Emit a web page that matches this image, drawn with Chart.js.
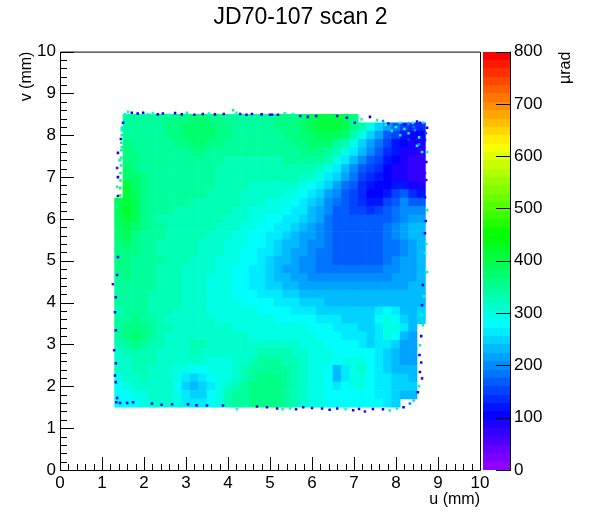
<!DOCTYPE html>
<html>
<head>
<meta charset="utf-8">
<style>
  html, body { margin: 0; padding: 0; background: #fff; }
  canvas { display: block; }
</style>
<script src="https://cdn.jsdelivr.net/npm/chart.js@4/dist/chart.umd.min.js"></script>
</head>
<body>
<canvas id="chart" width="601" height="522"></canvas>
<script>
const chartTitle = "JD70-107 scan 2";
const zTitle = "\u00b5rad";
const axisTicks = [0, 1, 2, 3, 4, 5, 6, 7, 8, 9, 10];
const zTicks = [0, 100, 200, 300, 400, 500, 600, 700, 800];

// cell centres, mm
const uCells = [1.4, 1.6, 1.8, 2.0, 2.2, 2.4, 2.6, 2.8, 3.0, 3.2, 3.4, 3.6, 3.8, 4.0, 4.2, 4.4, 4.6, 4.8, 5.0, 5.2, 5.4, 5.6, 5.8, 6.0, 6.2, 6.4, 6.6, 6.8, 7.0, 7.2, 7.4, 7.6, 7.8, 8.0, 8.2, 8.4, 8.6];
const vCells = [8.4, 8.2, 8.0, 7.8, 7.6, 7.4, 7.2, 7.0, 6.8, 6.6, 6.4, 6.2, 6.0, 5.8, 5.6, 5.4, 5.2, 5.0, 4.8, 4.6, 4.4, 4.2, 4.0, 3.8, 3.6, 3.4, 3.2, 3.0, 2.8, 2.6, 2.4, 2.2, 2.0, 1.8, 1.6];

// values in urad, one row per v
const _ = null;
const row84 = [_,345,345,345,345, 348,352,358,364,368, 370,364,356,350,346, 346,346,346,350,352, 358,366,376,390,402, 412,408,392,362,_, _,_,_,_,_, _,_];
const row82 = [_,346,344,344,346, 350,356,364,372,378, 380,374,364,354,350, 346,346,346,350,352, 358,366,376,390,404, 414,410,394,366,326, 288,250,215,180,150, 135,130];
const row80 = [_,350,348,346,346, 350,356,364,372,378, 378,372,362,352,348, 346,345,345,346,350, 354,362,370,380,392, 398,392,370,335,290, 250,215,175,145,120, 105,100];
const row78 = [_,354,350,346,344, 344,350,356,364,370, 370,362,352,346,344, 342,342,342,344,346, 350,356,362,370,374, 368,350,325,290,252, 218,185,150,125,105, 92,90];
const row76 = [_,358,354,348,344, 342,342,344,348,352, 352,348,342,340,338, 336,336,336,336,340, 344,348,352,354,354, 342,322,296,262,228, 195,165,135,112,95, 82,78];
const row74 = [_,362,356,348,342, 340,338,338,340,342, 342,340,336,334,332, 332,332,332,332,334, 336,338,340,342,338, 320,296,268,232,200, 172,145,120,100,85, 72,72];
const row72 = [_,368,360,350,342, 338,336,336,336,336, 336,336,334,332,330, 328,328,326,326,328, 330,332,332,326,314, 292,266,238,205,175, 150,128,108,92,90, 72,68];
const row70 = [_,380,368,352,342, 336,336,336,336,336, 336,336,334,330,328, 324,322,320,320,320, 322,320,316,304,288, 266,240,212,182,155, 130,112,98,92,88, 78,75];
const row68 = [_,400,380,358,344, 336,336,338,338,338, 336,336,334,330,324, 320,316,316,314,314, 312,308,300,284,266, 242,215,190,162,138, 112,100,105,125,120, 95,85];
const row66 = [_,412,392,366,348, 338,338,338,338,336, 336,334,332,328,322, 316,312,310,308,306, 302,296,284,266,244, 222,195,172,150,128, 110,105,125,150,160, 130,120];
const row64 = [385,414,394,366,348, 338,336,336,336,334, 334,332,330,326,320, 314,308,304,300,296, 292,282,268,250,228, 205,182,165,150,135, 120,125,150,170,192, 175,165];
const row62 = [392,416,392,362,344, 336,336,334,334,332, 330,328,326,322,316, 310,302,298,294,288, 280,270,256,238,218, 196,175,162,155,148, 140,148,170,185,198, 195,195];
const row60 = [388,410,384,358,342, 334,332,332,330,328, 326,324,322,318,312, 304,296,290,284,276, 268,256,242,226,208, 190,172,162,160,160, 160,165,175,190,205, 215,220];
const row58 = [378,398,376,352,340, 336,334,332,330,328, 325,322,318,312,306, 298,290,284,276,268, 258,246,232,218,200, 184,172,165,165,168, 170,172,180,195,210, 228,238];
const row56 = [368,384,366,350,340, 336,334,332,328,325, 322,318,313,306,300, 292,284,278,268,258, 246,234,222,210,196, 182,172,165,165,168, 170,172,180,192,210, 225,238];
const row54 = [358,372,356,345,338, 334,332,330,326,322, 318,314,309,302,296, 288,280,272,262,250, 238,226,214,204,192, 180,170,165,165,165, 168,172,178,190,205, 220,235];
const row52 = [355,364,352,344,338, 334,331,328,324,320, 316,312,306,298,292, 284,276,266,256,244, 232,220,210,198,188, 176,168,164,162,162, 165,170,178,190,205, 218,230];
const row50 = [355,360,350,342,338, 336,334,328,322,318, 314,308,302,296,288, 280,272,262,250,238, 226,216,206,198,190, 180,172,168,168,168, 170,174,182,194,208, 218,228];
const row48 = [355,356,348,342,338, 334,330,324,318,314, 310,305,298,290,284, 278,268,258,246,234, 222,212,204,196,190, 184,180,178,178,180, 182,186,192,200,210, 220,228];
const row46 = [350,352,346,340,336, 332,328,322,316,312, 308,302,294,288,282, 276,266,256,246,236, 226,218,210,204,198, 194,192,192,192,194, 196,198,204,210,216, 222,228];
const row44 = [345,348,344,340,336, 330,326,320,314,310, 306,300,294,288,282, 278,270,262,252,244, 236,228,222,216,212, 210,210,210,210,212, 212,214,216,218,222, 226,228];
const row42 = [342,344,342,340,334, 328,324,320,314,310, 306,300,294,288,284, 282,276,270,262,256, 248,242,236,232,228, 226,226,226,226,226, 226,226,226,226,226, 228,230];
const row40 = [336,340,342,340,334, 328,324,320,314,310, 306,302,296,290,288, 286,282,278,272,266, 262,256,250,246,242, 238,236,236,234,232, 230,232,238,234,226, 228,235];
const row38 = [334,338,342,340,334, 328,322,318,312,310, 306,303,298,296,294, 292,290,286,282,276, 274,268,264,258,254, 250,248,246,244,240, 242,265,280,270,235, 230,245];
const row36 = [338,346,352,348,336, 326,318,314,310,308, 308,306,302,300,298, 298,296,292,290,286, 284,280,276,272,266, 260,256,250,250,242, 250,280,298,285,255, 235,240];
const row34 = [348,358,366,358,342, 328,320,314,312,314, 312,310,306,304,302, 302,300,298,296,294, 292,288,288,284,280, 274,270,264,258,250, 244,258,300,290,262, 225,_];
const row32 = [345,362,368,360,342, 326,318,312,314,318, 316,312,308,306,304, 304,302,300,300,300, 298,296,294,290,284, 280,275,268,262,256, 252,268,290,275,235, 215,_];
const row30 = [326,342,352,350,334, 322,316,314,318,324, 320,314,310,306,304, 304,306,310,314,314, 312,308,302,296,288, 284,280,276,272,262, 250,268,270,240,222, 215,_];
const row28 = [318,328,334,334,324, 318,314,314,316,320, 316,310,306,304,304, 308,316,324,328,328, 324,316,308,300,294, 288,282,284,285,278, 272,268,252,228,218, 212,_];
const row26 = [310,318,324,326,320, 314,310,308,306,304, 304,300,298,298,304, 314,328,336,340,338, 332,322,312,302,296, 290,286,292,298,292, 282,270,248,228,220, 216,_];
const row24 = [305,314,320,322,318, 312,306,300,290,284, 282,288,292,296,306, 322,336,346,350,346, 338,326,312,302,296, 282,238,268,300,305, 285,268,252,238,230, 226,_];
const row22 = [296,308,318,320,316, 310,304,290,266,252, 258,272,288,302,316, 334,346,356,358,354, 344,330,314,300,292, 272,232,260,298,300, 285,270,258,248,242, 238,_];
const row20 = [285,296,308,312,312, 312,306,282,248,238, 246,270,292,312,330, 344,354,362,364,360, 350,332,314,300,290, 280,262,272,290,292, 282,270,258,250,245, 240,_];
const row18 = [274,280,290,302,312, 316,310,288,258,244, 252,274,298,322,336, 348,356,362,364,360, 348,330,312,298,290, 282,278,280,284,284, 280,270,258,248,238, 225,_];
const row16 = [272,275,282,292,304, 310,306,292,270,258, 262,280,302,322,336, 346,352,356,358,354, 342,324,308,296,290, 285,282,282,284,284, 282,276,266,252,_, _,_];

const valueRows = [row84, row82, row80, row78, row76, row74, row72, row70, row68, row66, row64, row62, row60, row58, row56, row54, row52, row50, row48, row46, row44, row42, row40, row38, row36, row34, row32, row30, row28, row26, row24, row22, row20, row18, row16];

// noisy pixels around the scan edge
const speckU = [1.55,1.62,1.71,1.85,1.98,2.08,2.21,2.33,2.45,2.6,2.74,2.9,3.02,3.2,3.40,3.55,3.69,3.9,4.12,4.2,4.29,4.44,4.57,4.8,5.0, 5.05,5.19,5.35,5.55,5.72,5.9,6.1,6.43,6.6,6.83,7.02,7.18,7.38,7.55,7.69,7.82,7.98,8.1,8.21,8.3,8.4,8.5,8.57,8.65,8.74, 8.71,8.69,8.74,8.72,8.69,8.72,8.69,8.74,8.71,8.69,8.72, 8.69,8.74,8.64,8.66,8.62,8.62,8.64,8.6,8.57,8.56,8.6,8.57,8.62,8.55,8.52, 5.17,5.3,5.48,5.62,5.79,6.0,6.24,6.42,6.6,6.8,6.98,7.12,7.26,7.45,7.69,7.85,8.02,8.18,8.33,8.42, 1.34,1.43,1.6,1.74,1.95,2.19,2.42,2.67,2.86,3.05,3.25,3.5,3.7,3.88,4.21,4.45,4.69,4.93, 1.38,1.36,1.26,1.33,1.31,1.33,1.33,1.29,1.33,1.33,1.31,1.33,1.33,1.36, 1.5,1.47,1.45,1.47,1.38,1.42,1.36,1.38,1.36,1.38,1.36,1.38, 7.9,8.1,8.3,8.45,8.55,8.3,8.5,8.0,8.2,8.42,8.6,7.75,8.55,8.62, 1.47,1.47,1.46,1.46,1.45,1.45,1.44,1.44,1.43,1.43];
const speckV = [8.5,8.56,8.54,8.52,8.54,8.5,8.53,8.5,8.52,8.49,8.53,8.5,8.54,8.49,8.51,8.52,8.50,8.51,8.60,8.54,8.51,8.49,8.51,8.5,8.49, 8.49,8.49,8.52,8.51,8.46,8.44,8.46,8.44,8.46,8.42,8.3,8.38,8.44,8.36,8.34,8.28,8.25,8.3,8.25,8.27,8.3,8.33,8.3,8.3,8.18, 8.05,7.89,7.6,7.36,7.1,6.93,6.52,6.21,5.95,5.66,5.4, 5.18,4.73,4.42,4.15,3.94,3.7,3.46,3.2,2.98,2.75,2.57,2.34,2.19,2.0,1.86, 1.47,1.45,1.47,1.45,1.5,1.48,1.47,1.44,1.47,1.45,1.43,1.46,1.4,1.46,1.45,1.42,1.47,1.5,1.59,1.66, 1.62,1.6,1.6,1.62,1.58,1.59,1.56,1.57,1.55,1.57,1.55,1.54,1.56,1.54,1.45,1.53,1.52,1.5, 5.09,4.66,4.44,4.13,3.77,3.55,3.34,2.86,2.55,2.4,2.26,2.1,1.95,1.72, 8.3,8.12,7.91,7.72,7.58,7.4,7.22,7.0,6.77,6.55,6.3,6.0, 8.1,8.0,8.05,8.12,7.95,7.9,7.75,8.2,8.15,8.2,8.15,8.25,7.78,7.6, 8.18,8.0,7.82,7.64,7.46,7.28,7.1,6.92,6.74,6.56];
const speckValues = [300,340,90,110,100,330,300,90,100,300,80,110,330,100,90,300,110,100,380,300,100,90,90,110,100, 90,110,340,300,100,90,110,330,90,110,120,300,100,350,200,90,150,300,120,200,300,90,120,250,90, 150,120,340,100,60,60,110,350,120,100,320, 320,340,90,310,100,330,330,100,330,90,120,90,60,330,110, 100,330,330,90,90,110,120,100,100,300,80,90,60,100,110,340,340,100,200,250, 100,90,110,110,300,100,90,90,330,80,100,120,300,100,300,300,90,110, 100,60,60,110,90,340,100,60,100,330,90,110,300,80, 120,330,100,340,90,330,60,110,330,100,330,340, 340,260,300,200,320,150,280,300,330,180,120,320,200,310, 350,352,356,360,365,372,385,392,400,410];

const hexPart = (n) => Math.round(n * 255).toString(16).padStart(2, "0");

// ROOT pretty palette: 50 bands of 16 urad, violet to red
function bandColor(index) {
  const hue = 280 - (index + 1) * 5.6;
  const f = (n) => {
    const k = (n + hue / 30) % 12;
    return 0.5 - 0.5 * Math.max(-1, Math.min(k - 3, 9 - k, 1));
  };
  return `#${hexPart(f(0))}${hexPart(f(8))}${hexPart(f(4))}`;
}

const valueColor = (value) => bandColor(Math.min(49, Math.floor(value / 16)));

const cellPoints = [];
valueRows.forEach((row, rowIndex) => {
  row.forEach((value, colIndex) => {
    if (value !== null) {
      cellPoints.push({ x: uCells[colIndex], y: vCells[rowIndex], value });
    }
  });
});
const speckPoints = speckU.map((u, i) => ({ x: u, y: speckV[i], value: speckValues[i] }));

const fontFamily = "'Liberation Sans', Arial, sans-serif";
const tickFont = { family: fontFamily, size: 17 };
const titleFont = { family: fontFamily, size: 16 };

const rootFrame = {
  id: "rootFrame",
  afterDraw(chart) {
    const { ctx, chartArea, scales } = chart;
    const { left, right, top, bottom } = chartArea;
    ctx.save();

    // colour bar
    const barLeft = 483;
    const barRight = 510;
    for (let i = 0; i < 50; i++) {
      const y0 = Math.round(scales.z.getPixelForValue(i * 16));
      const y1 = Math.round(scales.z.getPixelForValue((i + 1) * 16));
      ctx.fillStyle = bandColor(i);
      ctx.fillRect(barLeft, y1, barRight - barLeft, y0 - y1);
    }

    ctx.strokeStyle = "#000";
    ctx.lineWidth = 1;
    ctx.beginPath();
    ctx.rect(left + 0.5, top + 0.5, right - left, bottom - top);
    ctx.moveTo(barRight + 0.5, top);
    ctx.lineTo(barRight + 0.5, bottom + 1);

    zTicks.forEach((value) => {
      const y = Math.round(scales.z.getPixelForValue(value)) + 0.5;
      ctx.moveTo(barRight + 0.5, y);
      ctx.lineTo(barRight - 14, y);
    });

    // inward ticks, five divisions per mm
    for (let i = 0; i <= 50; i++) {
      const len = i % 5 === 0 ? 13 : 6;
      const x = Math.round(scales.x.getPixelForValue(i / 5)) + 0.5;
      ctx.moveTo(x, bottom);
      ctx.lineTo(x, bottom - len);
      const y = Math.round(scales.y.getPixelForValue(i / 5)) + 0.5;
      ctx.moveTo(left, y);
      ctx.lineTo(left + len + 1, y);
    }
    ctx.stroke();

    // chart.js turns right hand axis titles the other way
    ctx.translate(570, top);
    ctx.rotate(-Math.PI / 2);
    ctx.fillStyle = "#000";
    ctx.font = `${titleFont.size}px ${titleFont.family}`;
    ctx.textAlign = "right";
    ctx.fillText(zTitle, 0, 0);
    ctx.restore();
  },
};

new Chart(document.getElementById("chart"), {
  type: "scatter",
  data: {
    datasets: [
      {
        data: speckPoints,
        pointStyle: "rect",
        pointRadius: 1.8,
        borderWidth: 0,
        backgroundColor: (c) => valueColor(c.raw ? c.raw.value : 0),
        pointBorderWidth: 0,
      },
      {
        data: cellPoints,
        pointStyle: "rect",
        pointRadius: 6.4,
        borderWidth: 0,
        backgroundColor: (c) => valueColor(c.raw ? c.raw.value : 0),
        pointBorderWidth: 0,
      },
    ],
  },
  options: {
    responsive: false,
    devicePixelRatio: 1,
    animation: false,
    events: [],
    plugins: {
      legend: { display: false },
      tooltip: { enabled: false },
      title: {
        display: true,
        text: chartTitle,
        color: "#000",
        font: { family: fontFamily, size: 23, weight: "normal" },
        padding: { top: 4, bottom: 20 },
      },
    },
    scales: {
      x: {
        type: "linear",
        min: 0,
        max: 10,
        afterBuildTicks: (s) => { s.ticks = axisTicks.map((value) => ({ value })); },
        afterFit: (s) => { s.height = 52; },
        grid: { display: false, drawTicks: false },
        border: { display: false },
        ticks: { color: "#000", font: tickFont, padding: 3, maxRotation: 0, autoSkip: false },
        title: { display: true, text: "u (mm)", align: "end", color: "#000", font: titleFont, padding: { top: 0, bottom: 13 } },
      },
      y: {
        type: "linear",
        min: 0,
        max: 10,
        afterBuildTicks: (s) => { s.ticks = axisTicks.map((value) => ({ value })); },
        afterFit: (s) => { s.width = 60; },
        grid: { display: false, drawTicks: false },
        border: { display: false },
        ticks: { color: "#000", font: tickFont, padding: 4, autoSkip: false },
        title: { display: true, text: "v (mm)", align: "end", color: "#000", font: titleFont, padding: { top: 17, bottom: 0 } },
      },
      z: {
        type: "linear",
        position: "right",
        min: 0,
        max: 800,
        afterBuildTicks: (s) => { s.ticks = zTicks.map((value) => ({ value })); },
        afterFit: (s) => { s.width = 121; },
        grid: { display: false, drawTicks: false },
        border: { display: false },
        ticks: { color: "#000", font: tickFont, padding: 34, autoSkip: false },
      },
    },
  },
  plugins: [rootFrame],
});
</script>
</body>
</html>
